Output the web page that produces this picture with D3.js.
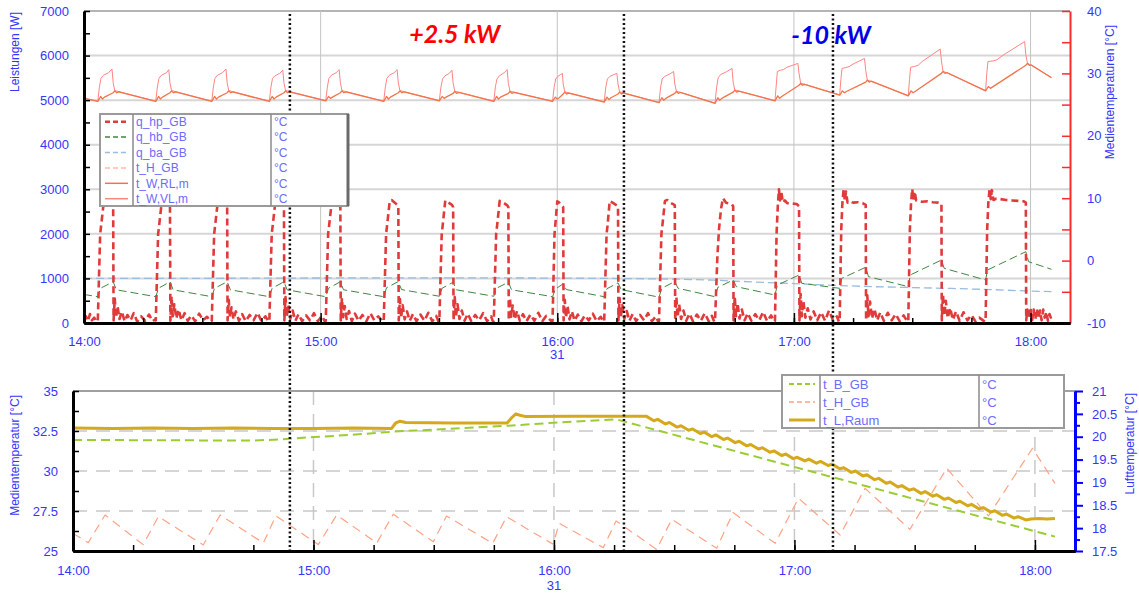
<!DOCTYPE html>
<html>
<head>
<meta charset="utf-8">
<script src="https://cdn.jsdelivr.net/npm/d3@7"></script>
<style>
  body { margin: 0; background: #fff; }
  svg { display: block; font-family: Arial, "Liberation Sans", sans-serif; }
</style>
</head>
<body>
<svg id="chart" width="1139" height="593"></svg>
<script>
// time is in minutes after 14:00
const hourTicks = [0, 60, 120, 180, 240];
const hourLabels = ["14:00", "15:00", "16:00", "17:00", "18:00"];
const dayTick = 120;
const dayLabel = "31";
const markerTimes = [52.2, 136.9, 189.9];

const annotations = [
  { text: "+2.5 kW", t: 94, w: 6290, color: "#ff0000" },
  { text: "-10 kW", t: 189.4, w: 6260, color: "#0000e6" },
];

const topNames = ["q_hp_GB", "q_hb_GB", "q_ba_GB", "t_H_GB", "t_W,RL,m", "t_W,VL,m"];
const topUnits = ["°C", "°C", "°C", "°C", "°C", "°C"];
const botNames = ["t_B_GB", "t_H_GB", "t_L,Raum"];
const botUnits = ["°C", "°C", "°C"];

// heat pump power [W]
const qHp = [
  [0,80],[0.5,150],[1,40],[1.5,200],[2,60],[2.6,120],[3.2,30],
  [3.5,50],[4.1,2000],[4.3,2150],[5,2700],[5.8,2720],[7.1,2650],[7.4,2600],[7.5,60],[7.8,550],[8.1,120],[8.5,380],[9,90],[9.6,260],[10.3,40],[11,180],[11.8,60],[12.6,220],[13.5,30],[14.5,150],[15.5,50],[16.5,190],[17.4,40],[18,80],
  [18.2,60],[18.8,2000],[19,2150],[19.7,2700],[20.4,2740],[21.5,2650],[21.8,2600],[21.9,50],[22.2,600],[22.5,150],[22.9,420],[23.4,100],[24,300],[24.7,60],[25.5,220],[26.3,50],[27.2,170],[28.2,40],[29.2,210],[30.2,60],[31.2,140],[32.1,30],
  [32.4,50],[33,2000],[33.2,2150],[33.9,2700],[34.6,2730],[36,2650],[36.3,2600],[36.4,60],[36.7,520],[37,130],[37.4,350],[37.9,80],[38.5,260],[39.3,50],[40.1,200],[41,40],[42,180],[43,60],[44,230],[45,40],[46,150],[46.8,30],
  [47,50],[47.6,2000],[47.8,2150],[48.5,2700],[49.2,2730],[50.4,2650],[50.7,2600],[50.8,60],[51.1,580],[51.4,140],[51.8,400],[52.3,90],[52.9,280],[53.6,50],[54.4,200],[55.3,40],[56.3,170],[57.3,60],[58.3,220],[59.3,40],[60.3,160],[61.1,30],
  [61.3,50],[61.9,2000],[62.1,2150],[62.8,2700],[63.5,2740],[64.7,2650],[65,2600],[65.1,60],[65.4,560],[65.7,130],[66.1,380],[66.6,90],[67.2,270],[67.9,40],[68.7,210],[69.6,50],[70.6,180],[71.6,40],[72.6,220],[73.6,60],[74.6,150],[75.8,30],
  [76,50],[76.6,2000],[76.8,2150],[77.5,2720],[78,2760],[78.8,2700],[79.4,2650],[79.7,2620],[79.8,60],[80.1,540],[80.4,120],[80.8,400],[81.3,80],[81.9,260],[82.6,50],[83.4,200],[84.3,40],[85.3,190],[86.3,50],[87.3,230],[88.3,40],[89.3,160],[89.9,30],
  [90.1,50],[90.7,2000],[90.9,2150],[91.6,2750],[92.1,2720],[93.3,2650],[93.6,2600],[93.7,60],[94,580],[94.3,130],[94.7,420],[95.2,90],[95.8,280],[96.5,50],[97.3,210],[98.2,40],[99.2,180],[100.2,60],[101.2,220],[102.2,40],[103.2,150],[103.7,30],
  [103.9,50],[104.5,2000],[104.7,2150],[105.4,2740],[106,2720],[107.3,2640],[107.6,2600],[107.7,60],[108,560],[108.3,140],[108.7,390],[109.2,80],[109.8,270],[110.5,50],[111.3,200],[112.2,40],[113.2,190],[114.2,50],[115.2,230],[116.2,40],[117.2,160],[118.6,30],
  [118.8,50],[119.3,2000],[119.5,2200],[120,2730],[120.5,2700],[121.3,2620],[121.5,2600],[121.6,60],[121.9,520],[122.2,120],[122.6,380],[123.1,80],[123.7,260],[124.4,50],[125.2,190],[126.1,40],[127,170],[128,60],[129,210],[130,40],[131,140],[131.7,30],
  [131.9,50],[132.5,2000],[132.7,2150],[133.3,2740],[134,2700],[135.1,2640],[135.4,2600],[135.5,60],[135.8,560],[136.1,130],[136.5,400],[137,90],[137.6,270],[138.3,50],[139.1,200],[140,40],[141,180],[142,60],[143,220],[144,40],[145,150],[145.6,30],
  [145.8,50],[146.4,2000],[146.6,2150],[147.3,2740],[147.9,2760],[148.6,2700],[149.5,2660],[149.8,2640],[149.9,60],[150.2,580],[150.5,130],[150.9,420],[151.4,90],[152,280],[152.7,50],[153.5,210],[154.4,40],[155.4,190],[156.4,50],[157.4,220],[158.4,40],[159.2,160],[159.8,30],
  [160,50],[160.6,1500],[161,2100],[161.5,2550],[162,2800],[162.8,2700],[164.3,2660],[164.6,2620],[164.7,60],[165,600],[165.3,150],[165.7,450],[166.2,100],[166.8,300],[167.5,60],[168.3,220],[169.2,50],[170.2,200],[171.2,60],[172.2,250],[173.2,40],[174.2,170],[175,30],
  [175.2,50],[175.6,2000],[175.9,2600],[176.2,3000],[176.5,2750],[176.8,2950],[177.2,2700],[177.7,2750],[178.3,2690],[179.5,2680],[180.7,2670],[181.3,2620],[181.4,60],[181.7,650],[182,150],[182.4,500],[182.9,120],[183.5,330],[184.2,80],[185,260],[185.9,60],[186.9,240],[187.9,50],[188.9,280],[189.9,60],[190.9,150],[191.4,30],
  [191.6,50],[192,2100],[192.3,2700],[192.6,3000],[192.9,2750],[193.2,2950],[193.6,2700],[194.1,2730],[195,2700],[196.2,2710],[197.4,2690],[198.2,2650],[198.3,60],[198.6,620],[198.9,150],[199.3,480],[199.8,100],[200.4,320],[201.1,60],[201.9,240],[202.8,50],[203.8,230],[204.8,60],[205.8,200],[206.8,40],[207.8,170],[208.8,30],
  [209,50],[209.4,2100],[209.7,2700],[210,3010],[210.3,2760],[210.6,2950],[211,2750],[211.6,2730],[212.5,2720],[213.8,2730],[215.2,2710],[216.6,2700],[217.4,2680],[217.5,60],[217.8,640],[218.1,160],[218.5,500],[219,110],[219.6,340],[220.3,70],[221.1,260],[222,50],[223,240],[224,60],[225,180],[226,40],[227,120],[228.4,30],
  [228.6,50],[229,2100],[229.3,2700],[229.6,3000],[229.9,2780],[230.2,2980],[230.6,2760],[231.3,2790],[232.3,2780],[233.8,2760],[235.3,2750],[236.8,2740],[238.3,2730],[238.8,2700],[238.9,60],[239.2,300],[239.6,100],[240,350],[240.4,60],[240.8,300],[241.2,80],[241.6,320],[242,100],[242.4,280],[242.8,60],[243.2,300],[243.6,120],[244,250],[244.4,50],[244.8,200],[245.3,80],
];

// q_hb_GB [W]
const qHb = [
  [0,640],[3.5,590],[4.2,780],[7.4,925],[8.2,745],[18.2,590],[18.9,780],[21.8,925],[22.6,745],
  [32.4,590],[33.1,780],[36.3,925],[37.1,745],[47,590],[47.7,780],[50.7,925],[51.5,745],
  [61.3,590],[62,780],[65,925],[65.8,745],[76,590],[76.7,790],[79.7,930],[80.5,750],
  [90.1,600],[90.8,780],[93.6,915],[94.4,745],[103.9,600],[104.6,780],[107.6,915],[108.4,745],
  [118.8,590],[119.5,760],[121.5,880],[122.3,750],[131.9,590],[132.6,770],[135.4,900],[136.2,750],
  [145.8,580],[146.5,780],[149.8,930],[150.6,780],[160,590],[160.7,800],[164.6,965],[165.4,815],
  [175.2,628],[175.8,850],[181.3,1077],[182,890],[191.6,778],[192.1,1000],[198.2,1250],[198.9,1040],
  [209,815],[209.5,1077],[217.4,1413],[218.1,1227],[228.6,965],[229.1,1190],[238.8,1600],[239.5,1375],[245.3,1205],
];

// q_ba_GB [W]
const qBa = [
  [0,1000],[20,1000],[40,1005],[60,1010],[80,1012],[100,1012],[120,1008],[140,995],[150,985],
  [160,960],[170,920],[180,885],[190,845],[200,815],[210,795],[220,775],[230,750],[240,715],[245.3,703],
];

// t_W,RL,m [°C]
const tRl = [
  [0,26.0],
  [3.5,25.5],[4.2,26.3],[4.7,25.9],[5.2,26.2],[7.4,26.9],[7.8,27.2],[8.3,26.9],[8.8,27.05],
  [18.2,25.5],[18.9,26.3],[19.4,25.9],[19.9,26.2],[21.8,26.9],[22.2,27.2],[22.7,26.9],[23.2,27.05],
  [32.4,25.5],[33.1,26.3],[33.6,25.9],[34.1,26.2],[36.3,26.9],[36.7,27.2],[37.2,26.9],[37.7,27.05],
  [47,25.5],[47.7,26.3],[48.2,25.9],[48.7,26.2],[50.7,26.9],[51.1,27.2],[51.6,26.9],[52.1,27.05],
  [61.3,25.6],[62,26.3],[62.5,26],[63,26.2],[65,26.9],[65.4,27.2],[65.9,26.9],[66.4,27.05],
  [76,25.5],[76.7,26.3],[77.2,25.9],[77.7,26.2],[79.7,26.9],[80.1,27.2],[80.6,26.9],[81.1,27.05],
  [90.1,25.6],[90.8,26.3],[91.3,26],[91.8,26.2],[93.6,26.8],[94,27.1],[94.5,26.8],[95,26.95],
  [103.9,25.5],[104.6,26.3],[105.1,25.9],[105.6,26.2],[107.6,26.8],[108,27.1],[108.5,26.8],[109,26.95],
  [118.8,25.5],[119.5,26.2],[120,25.9],[120.5,26.1],[121.5,26.7],[121.9,27.0],[122.4,26.7],[122.9,26.85],
  [131.9,25.4],[132.6,26.2],[133.1,25.8],[133.6,26.1],[135.4,26.7],[135.8,27.0],[136.3,26.7],[136.8,26.85],
  [145.8,25.3],[146.5,26.1],[147,25.7],[147.5,26],[149.8,26.8],[150.2,27.1],[150.7,26.8],[151.2,26.95],
  [160,25.2],[160.7,26.1],[161.2,25.7],[161.7,26],[164.6,27.0],[165,27.3],[165.5,27.0],[166,27.15],
  [175.2,25.6],[175.9,26.4],[176.4,26.0],[176.9,26.3],[181.3,28.1],[181.7,28.4],[182.2,28.1],[182.7,28.25],
  [191.6,26.5],[192.3,27.2],[192.8,26.9],[193.3,27.1],[198.2,28.6],[198.6,28.9],[199.1,28.6],[199.6,28.75],
  [209,26.4],[209.7,27.2],[210.2,26.9],[210.7,27.1],[217.4,30.0],[217.8,30.3],[218.3,30.0],[218.8,30.15],
  [228.6,27.2],[229.3,27.9],[229.8,27.6],[230.3,27.8],[238.8,31.3],[239.2,31.6],[239.7,31.3],[240.2,31.35],
  [245.3,29.3],
];

// t_W,VL,m [°C]
const tVl = [
  [0,26.05],
  [3.5,25.55],[3.9,27.8],[4.3,29.2],[4.9,29.7],[6.2,30.1],[7.1,30.7],[7.4,28.5],[7.8,27.25],
  [18.2,25.55],[18.6,27.8],[19,29.2],[19.6,29.7],[20.9,30.1],[21.5,30.6],[21.8,28.5],[22.2,27.25],
  [32.4,25.55],[32.8,27.8],[33.2,29.2],[33.8,29.7],[35.1,30.1],[36,30.7],[36.3,28.5],[36.7,27.25],
  [47,25.55],[47.4,27.8],[47.8,29.2],[48.4,29.6],[49.6,30],[50.4,30.5],[50.7,28.5],[51.1,27.25],
  [61.3,25.65],[61.7,27.8],[62.1,29.2],[62.7,29.7],[63.9,30.1],[64.7,30.6],[65,28.5],[65.4,27.25],
  [76,25.55],[76.4,27.8],[76.8,29.2],[77.4,29.7],[78.6,30.1],[79.4,30.6],[79.7,28.5],[80.1,27.25],
  [90.1,25.65],[90.5,27.8],[90.9,29.1],[91.5,29.6],[92.6,30],[93.3,30.5],[93.6,28.4],[94,27.15],
  [103.9,25.55],[104.3,27.8],[104.7,29.1],[105.3,29.6],[106.5,30.1],[107.3,30.6],[107.6,28.4],[108,27.15],
  [118.8,25.55],[119.2,27.8],[119.6,29.1],[120.1,29.5],[120.8,29.8],[121.3,30],[121.5,28.3],[121.9,27.05],
  [131.9,25.45],[132.3,27.8],[132.7,29.1],[133.3,29.5],[134.3,29.8],[135.1,30],[135.4,28.3],[135.8,27.05],
  [145.8,25.35],[146.2,27.8],[146.6,29.1],[147.2,29.5],[148.5,29.9],[149.5,30.3],[149.8,28.3],[150.2,27.15],
  [160,25.25],[160.4,27.8],[160.8,29.3],[161.4,29.8],[163,30.3],[164.3,30.8],[164.6,28.6],[165,27.35],
  [175.2,25.65],[175.5,28],[175.8,30.3],[176.5,30.5],[177.3,30.6],[178.3,31.0],[181,31.6],[181.3,30],[181.7,28.45],
  [191.6,26.55],[191.9,29],[192.2,30.8],[193,30.9],[194,31.1],[195,31.5],[197.9,32.4],[198.2,30.5],[198.6,28.95],
  [209,26.45],[209.3,29],[209.6,31.0],[210.5,31.1],[211.5,31.3],[212.5,31.9],[217.1,33.9],[217.4,32],[217.8,30.35],
  [228.6,27.25],[228.9,30],[229.2,31.9],[230.5,32.0],[231.5,32.2],[233,32.9],[238.5,35.1],[238.8,33],[239.2,31.65],
  [245.3,29.35],
];

// bottom: t_B_GB [°C]
const tB = [
  [0,31.94],[25,31.92],[45,31.9],[52,31.98],[60,32.12],[69,32.25],[80,32.46],[108.6,32.83],
  [120,33.02],[135.5,33.23],[245,25.9],
];

// bottom: t_H_GB [°C]
const tH = [
  [0,26.1],[3.8,25.52],[8,27.25],[17.5,25.4],[21.3,27.15],[32.5,25.38],[36.7,27.25],[47.5,25.5],
  [50.6,27.2],[61.2,25.4],[65.8,27.25],[75.8,25.5],[79.9,27.3],[89.9,25.58],[93.2,27.19],[104.7,25.48],
  [108.2,27.14],[119.8,25.42],[121.3,26.73],[132.3,25.21],[135.5,26.88],[145.6,25.1],[149.4,26.98],
  [160.6,25.17],[164.7,27.4],[175.2,25.48],[181,28.3],[191.4,26.0],[197.6,28.92],[208.8,26.35],
  [218,30.17],[228.4,27.19],[239.4,31.42],[245,29.23],
];

// bottom: t_L,Raum [°C], right axis
const tL = [
  [0,20.19],[10,20.18],[20,20.19],[30,20.18],[40,20.19],[50,20.18],[60,20.18],[70,20.19],[79.5,20.18],
  [80.5,20.3],[81.6,20.34],[83,20.31],[95,20.3],[108.3,20.3],[109.5,20.42],[110.5,20.5],[111.5,20.47],
  [113,20.44],[125,20.45],[135,20.45],
  [143.0,20.45],[144.9,20.35],[145.9,20.38],[147.8,20.28],[148.8,20.31],[150.7,20.21],[151.7,20.24],[153.6,20.14],
  [154.6,20.17],[156.5,20.07],[157.5,20.10],[159.4,20.00],[160.4,20.04],[162.3,19.94],[163.3,19.97],[165.2,19.87],
  [166.2,19.90],[168.1,19.80],[169.1,19.83],[171.0,19.73],[172.0,19.76],[173.9,19.66],[174.9,19.69],[176.8,19.59],
  [177.8,19.62],[179.7,19.52],[180.7,19.55],[182.6,19.47],[183.6,19.51],[185.5,19.42],[186.5,19.46],[188.4,19.37],
  [189.4,19.40],[191.3,19.30],[192.3,19.32],[194.2,19.22],[195.2,19.25],[197.1,19.14],[198.1,19.17],[200.0,19.06],
  [201.0,19.09],[202.9,18.98],[203.9,19.01],[205.8,18.90],[206.8,18.93],[208.7,18.83],[209.7,18.86],[211.6,18.76],
  [212.6,18.80],[214.5,18.70],[215.5,18.73],[217.4,18.63],[218.4,18.66],[220.3,18.56],[221.3,18.59],[223.2,18.49],
  [224.2,18.52],[226.1,18.42],[227.1,18.45],[229.0,18.35],[230.0,18.38],[231.9,18.28],[232.9,18.31],[234.8,18.22],
  [235.8,18.25],[237.7,18.18],[239,18.2],[241,18.21],[243,18.2],[245,18.21],
];

const topStyles = {
  "q_hp_GB": { color: "#e03a3a", width: 2.6, dash: "7,4" },
  "q_hb_GB": { color: "#3f873f", width: 1, dash: "8,4" },
  "q_ba_GB": { color: "#98bde0", width: 1.3, dash: "8,4" },
  "t_H_GB": { color: "#ffbca8", width: 1.2, dash: "6,4" },
  "t_W,RL,m": { color: "#f2744a", width: 1.3, dash: null },
  "t_W,VL,m": { color: "#ff8585", width: 1, dash: null },
};
const botStyles = {
  "t_B_GB": { color: "#9acd32", width: 2, dash: "9,5" },
  "t_H_GB": { color: "#ffa285", width: 1.2, dash: "9,6" },
  "t_L,Raum": { color: "#d4aa1c", width: 3, dash: null },
};

const tickBlue = "#3535ff";
const legendBlue = "#6c6cff";

DrawChart();

function drawSeries(g, data, x, y, st) {
  const line = d3.line().x((d) => x(d[0])).y((d) => y(d[1]));
  g.append("path")
    .datum(data)
    .attr("d", line)
    .attr("fill", "none")
    .attr("stroke", st.color)
    .attr("stroke-width", st.width)
    .attr("stroke-dasharray", st.dash)
    .attr("stroke-linejoin", "round");
}

function styleAxis(g, color, width) {
  g.select(".domain").attr("stroke", color).attr("stroke-width", width);
  g.selectAll(".tick line").attr("stroke", color).attr("stroke-width", 1.5);
  g.selectAll("text").attr("fill", tickBlue).style("font-size", "13px");
}

function drawLegend(svg, box, names, units, styles, rowY, fontSize) {
  const lg = svg.append("g").attr("class", "legend");
  lg.append("rect")
    .attr("x", box.x).attr("y", box.y)
    .attr("width", box.w).attr("height", box.h)
    .attr("fill", "#fff").attr("stroke", "#9a9a9a").attr("stroke-width", 2);
  lg.append("line")
    .attr("x1", box.c1).attr("x2", box.c1).attr("y1", box.y).attr("y2", box.y + box.h)
    .attr("stroke", "#8a8a8a").attr("stroke-width", 1.5);
  lg.append("line")
    .attr("x1", box.c2).attr("x2", box.c2).attr("y1", box.y).attr("y2", box.y + box.h)
    .attr("stroke", "#8a8a8a").attr("stroke-width", 1.5);
  if (box.thickRight) {
    lg.append("line")
      .attr("x1", box.x + box.w).attr("x2", box.x + box.w)
      .attr("y1", box.y).attr("y2", box.y + box.h)
      .attr("stroke", "#6a6a6a").attr("stroke-width", 3);
  }
  names.forEach((n, i) => {
    const st = styles[n];
    const cy = rowY(i);
    lg.append("line")
      .attr("x1", box.s1).attr("x2", box.s2).attr("y1", cy).attr("y2", cy)
      .attr("stroke", st.color)
      .attr("stroke-width", Math.max(st.width, 1.5))
      .attr("stroke-dasharray", st.dash ? "5,3" : null);
    lg.append("text")
      .attr("x", box.c1 + 3).attr("y", cy).attr("dy", "0.35em")
      .attr("fill", legendBlue).style("font-size", fontSize)
      .text(n);
    lg.append("text")
      .attr("x", box.c2 + 3).attr("y", cy).attr("dy", "0.35em")
      .attr("fill", legendBlue).style("font-size", fontSize)
      .text(units[i]);
  });
}

function DrawChart() {
  const svg = d3.select("#chart");

  // ---------- top chart ----------
  const xTop = d3.scaleLinear().domain([0, 250]).range([84, 1070]);
  const yW = d3.scaleLinear().domain([0, 7000]).range([323, 11]);
  const yT = d3.scaleLinear().domain([-10, 40]).range([323, 11]);

  svg.append("clipPath").attr("id", "clipTop")
    .append("rect").attr("x", 84).attr("y", 11).attr("width", 986).attr("height", 312);

  // gridlines
  svg.append("g")
    .selectAll("line")
    .data(d3.range(1000, 7001, 1000))
    .enter()
    .append("line")
    .attr("x1", xTop(0)).attr("x2", xTop(250))
    .attr("y1", (d) => yW(d)).attr("y2", (d) => yW(d))
    .attr("stroke", (d) => (d === 7000 ? "#b4b4b4" : "#d6d6d6"))
    .attr("stroke-width", 2);
  svg.append("g")
    .selectAll("line")
    .data(hourTicks.slice(1))
    .enter()
    .append("line")
    .attr("x1", (d) => xTop(d)).attr("x2", (d) => xTop(d))
    .attr("y1", yW(7000)).attr("y2", yW(0))
    .attr("stroke", "#c4c4c4").attr("stroke-width", 1);

  const topLines = svg.append("g").attr("clip-path", "url(#clipTop)");
  drawSeries(topLines, qBa, xTop, yW, topStyles["q_ba_GB"]);
  drawSeries(topLines, qHb, xTop, yW, topStyles["q_hb_GB"]);
  drawSeries(topLines, tVl, xTop, yT, topStyles["t_W,VL,m"]);
  drawSeries(topLines, tRl, xTop, yT, topStyles["t_W,RL,m"]);
  drawSeries(topLines, qHp, xTop, yW, topStyles["q_hp_GB"]);

  // axes
  const leftTop = svg.append("g")
    .attr("transform", `translate(${xTop(0)},0)`)
    .call(d3.axisLeft(yW).tickValues(d3.range(0, 7001, 500))
      .tickSize(-6).tickSizeOuter(0).tickPadding(15)
      .tickFormat((d) => (d % 1000 === 0 ? d : "")));
  styleAxis(leftTop, "#000", 3);

  const rightTop = svg.append("g")
    .attr("transform", `translate(${xTop(250)},0)`)
    .call(d3.axisRight(yT).tickValues(d3.range(-10, 41, 5))
      .tickSize(-8).tickSizeOuter(0).tickPadding(17)
      .tickFormat((d) => (d % 10 === 0 ? d : "")));
  styleAxis(rightTop, "#ff2a2a", 2);

  const minorTop = svg.append("g")
    .attr("transform", `translate(0,${yW(0)})`)
    .call(d3.axisBottom(xTop).tickValues(d3.range(0, 251, 15))
      .tickSize(-5).tickSizeOuter(0).tickFormat(""));
  styleAxis(minorTop, "#000", 3);
  const majorTop = svg.append("g")
    .attr("transform", `translate(0,${yW(0)})`)
    .call(d3.axisBottom(xTop).tickValues(hourTicks)
      .tickSize(-10).tickSizeOuter(0).tickPadding(14)
      .tickFormat((d, i) => hourLabels[i]));
  styleAxis(majorTop, "#000", 3);
  svg.append("text")
    .attr("x", xTop(dayTick)).attr("y", 359)
    .attr("text-anchor", "middle").attr("fill", tickBlue)
    .style("font-size", "13px").text(dayLabel);

  svg.append("text")
    .attr("transform", "translate(19,12) rotate(-90)")
    .attr("text-anchor", "end").attr("fill", tickBlue)
    .style("font-size", "12px").text("Leistungen [W]");
  svg.append("text")
    .attr("transform", "translate(1114,25) rotate(-90)")
    .attr("text-anchor", "end").attr("fill", tickBlue)
    .style("font-size", "12px").text("Medientemperaturen [°C]");

  // ---------- bottom chart ----------
  const xBot = d3.scaleLinear().domain([0, 250]).range([73, 1075]);
  const yB = d3.scaleLinear().domain([25, 35]).range([551, 391]);
  const yL = d3.scaleLinear().domain([17.5, 21]).range([551, 391]);

  svg.append("clipPath").attr("id", "clipBot")
    .append("rect").attr("x", 73).attr("y", 391).attr("width", 1002).attr("height", 160);

  svg.append("g")
    .selectAll("line")
    .data([27.5, 30, 32.5])
    .enter()
    .append("line")
    .attr("x1", xBot(0)).attr("x2", xBot(250))
    .attr("y1", (d) => yB(d)).attr("y2", (d) => yB(d))
    .attr("stroke", "#c8c8c8").attr("stroke-width", 1.5)
    .attr("stroke-dasharray", "14,9");
  svg.append("g")
    .selectAll("line")
    .data(hourTicks.slice(1))
    .enter()
    .append("line")
    .attr("x1", (d) => xBot(d)).attr("x2", (d) => xBot(d))
    .attr("y1", yB(35)).attr("y2", yB(25))
    .attr("stroke", "#c8c8c8").attr("stroke-width", 1.5)
    .attr("stroke-dasharray", "14,9");
  svg.append("line")
    .attr("x1", xBot(0)).attr("x2", xBot(250))
    .attr("y1", yB(35)).attr("y2", yB(35))
    .attr("stroke", "#a0a0a0").attr("stroke-width", 2);

  const botLines = svg.append("g").attr("clip-path", "url(#clipBot)");
  drawSeries(botLines, tH, xBot, yB, botStyles["t_H_GB"]);
  drawSeries(botLines, tB, xBot, yB, botStyles["t_B_GB"]);
  drawSeries(botLines, tL, xBot, yL, botStyles["t_L,Raum"]);

  const leftBot = svg.append("g")
    .attr("transform", `translate(${xBot(0)},0)`)
    .call(d3.axisLeft(yB).tickValues(d3.range(25, 35.01, 1.25))
      .tickSize(-6).tickSizeOuter(0).tickPadding(15)
      .tickFormat((d) => ((d * 2) % 5 === 0 ? d : "")));
  styleAxis(leftBot, "#000", 3);

  const rightBot = svg.append("g")
    .attr("transform", `translate(${xBot(250)},0)`)
    .call(d3.axisRight(yL).tickValues(d3.range(17.5, 21.01, 0.25))
      .tickSize(8).tickSizeOuter(0).tickPadding(9)
      .tickFormat((d) => ((d * 2) % 1 === 0 ? d : "")));
  styleAxis(rightBot, "#0000ff", 3);
  rightBot.selectAll(".tick line")
    .attr("stroke-width", 2)
    .attr("x2", (d) => ((d * 2) % 1 === 0 ? 8 : 5));

  const minorBot = svg.append("g")
    .attr("transform", `translate(0,${yB(25)})`)
    .call(d3.axisBottom(xBot).tickValues(d3.range(0, 251, 15))
      .tickSize(-6).tickSizeOuter(0).tickFormat(""));
  styleAxis(minorBot, "#000", 3);
  const majorBot = svg.append("g")
    .attr("transform", `translate(0,${yB(25)})`)
    .call(d3.axisBottom(xBot).tickValues(hourTicks)
      .tickSize(-11).tickSizeOuter(0).tickPadding(15)
      .tickFormat((d, i) => hourLabels[i]));
  styleAxis(majorBot, "#000", 3);
  svg.append("text")
    .attr("x", xBot(dayTick)).attr("y", 590)
    .attr("text-anchor", "middle").attr("fill", tickBlue)
    .style("font-size", "13px").text(dayLabel);

  svg.append("text")
    .attr("transform", "translate(19,395) rotate(-90)")
    .attr("text-anchor", "end").attr("fill", tickBlue)
    .style("font-size", "12px").text("Medientemperatur [°C]");
  svg.append("text")
    .attr("transform", "translate(1134,393) rotate(-90)")
    .attr("text-anchor", "end").attr("fill", tickBlue)
    .style("font-size", "12px").text("Lufttemperatur [°C]");

  // ---------- event markers (dotted) ----------
  svg.append("g")
    .selectAll("line")
    .data(markerTimes)
    .enter()
    .append("line")
    .attr("x1", (d) => xTop(d)).attr("x2", (d) => xTop(d))
    .attr("y1", 14).attr("y2", 550)
    .attr("stroke", "#111").attr("stroke-width", 2.5)
    .attr("stroke-dasharray", "2,2.5");

  // ---------- legends ----------
  drawLegend(svg,
    { x: 100, y: 114, w: 248, h: 92, c1: 133, c2: 271, s1: 105, s2: 128, thickRight: true },
    topNames, topUnits, topStyles, (i) => 121.7 + i * 15.4, "12px");
  drawLegend(svg,
    { x: 782, y: 375, w: 282, h: 53, c1: 820, c2: 979, s1: 789, s2: 815, thickRight: false },
    botNames, botUnits, botStyles, (i) => 384 + i * 18, "13px");

  // ---------- annotations ----------
  svg.append("g")
    .selectAll("text")
    .data(annotations)
    .enter()
    .append("text")
    .attr("x", (d) => xTop(d.t))
    .attr("y", (d) => yW(d.w))
    .attr("text-anchor", "middle")
    .attr("fill", (d) => d.color)
    .style("font-family", "Lato, 'Open Sans', sans-serif")
    .style("font-weight", "bold")
    .style("font-style", "italic")
    .style("font-size", "25px")
    .text((d) => d.text);
}
</script>
</body>
</html>
